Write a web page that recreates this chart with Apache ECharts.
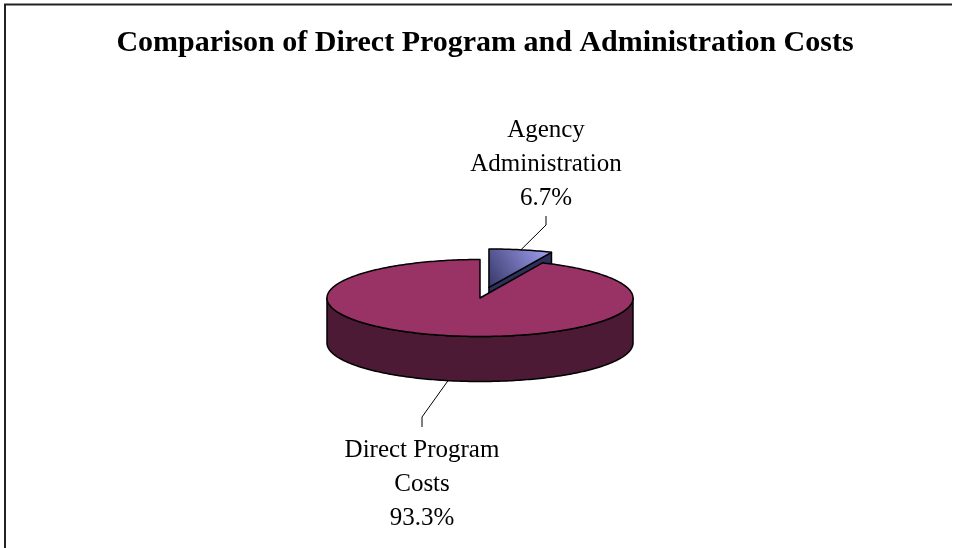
<!DOCTYPE html>
<html>
<head>
<meta charset="utf-8">
<script src="https://cdn.jsdelivr.net/npm/echarts@6/dist/echarts.min.js"></script>
<style>
  html, body { margin: 0; padding: 0; background: #fff; }
  #chart { width: 956px; height: 548px; }
</style>
</head>
<body>
<div id="chart"></div>
<script>
// ---- data ----
const chartTitle = 'Comparison of Direct Program and Administration Costs';
const categories = ['Agency\nAdministration', 'Direct Program\nCosts'];
const values = [6.7, 93.3];
const explodeRatio = [0.28, 0];

// ---- layout / style ----
const PIE = { cx: 480, cy: 298, rx: 153, ry: 38.5, depth: 45 };
const LABEL_LAYOUT = [
  { elbow: [546, 225], end: [546, 216], vAlign: 'bottom', gap: -1 },
  { elbow: [422, 417], end: [422, 427], vAlign: 'top', gap: 6 }
];
const TOP_FILLS = [
  new echarts.graphic.LinearGradient(1, 0, 0, 1, [
    { offset: 0, color: '#a5a5f7' },
    { offset: 1, color: '#363668' }
  ]),
  '#993366'
];
const SIDE_FILLS = ['#2f2f5c', '#4c1a34'];
const LABEL_FONT = '25px "Liberation Serif", "Times New Roman", serif';

const total = values.reduce((a, b) => a + b, 0);
const startFractions = values.map((v, i) => values.slice(0, i).reduce((a, b) => a + b, 0) / total);

function renderSlice(params, api) {
  const idx = params.dataIndex;
  const value = api.value(0);
  const a0 = startFractions[idx] * Math.PI * 2;
  const a1 = a0 + value / total * Math.PI * 2;
  const mid = (a0 + a1) / 2;
  const ex = explodeRatio[idx] * PIE.rx * Math.sin(mid);
  const ey = -explodeRatio[idx] * PIE.ry * Math.cos(mid);
  const cx = PIE.cx + ex, cy = PIE.cy + ey, d = PIE.depth;

  // angle measured clockwise from 12 o'clock
  const pt = (t, dz) => [cx + PIE.rx * Math.sin(t), cy - PIE.ry * Math.cos(t) + (dz || 0)];
  const arc = (s, e, dz) => {
    const n = Math.max(2, Math.ceil((e - s) / (Math.PI / 180)));
    const pts = [];
    for (let k = 0; k <= n; k++) pts.push(pt(s + (e - s) * k / n, dz));
    return pts;
  };
  const outline = { stroke: '#000', lineWidth: 1.5, lineJoin: 'round' };
  const base = Math.cos(mid) > 0 ? 0 : 10;   // back slices first
  const children = [];

  // radial cut faces that face the viewer
  if (Math.sin(a1) > 1e-6) {
    children.push({ type: 'polygon', z2: base + 1,
      shape: { points: [[cx, cy], pt(a1), pt(a1, d), [cx, cy + d]] },
      style: Object.assign({ fill: SIDE_FILLS[idx] }, outline) });
  }
  if (Math.sin(a0) < -1e-6) {
    children.push({ type: 'polygon', z2: base + 1,
      shape: { points: [[cx, cy], pt(a0), pt(a0, d), [cx, cy + d]] },
      style: Object.assign({ fill: SIDE_FILLS[idx] }, outline) });
  }
  // front part of the outer rim
  const s = Math.max(a0, Math.PI / 2), e = Math.min(a1, Math.PI * 1.5);
  if (e > s) {
    const topArc = arc(s, e, 0);
    const botArc = arc(s, e, d).reverse();
    children.push({ type: 'polygon', z2: base + 2,
      shape: { points: topArc.concat(botArc) },
      style: Object.assign({ fill: SIDE_FILLS[idx] }, outline) });
  }
  // top face
  children.push({ type: 'polygon', z2: base + 3,
    shape: { points: [[cx, cy]].concat(arc(a0, a1, 0)) },
    style: Object.assign({ fill: TOP_FILLS[idx] }, outline) });

  // leader line and label
  const front = Math.cos(mid) < 0;
  const start = pt(mid, front ? d : 0);
  const lay = LABEL_LAYOUT[idx];
  children.push({ type: 'polyline', z2: 20,
    shape: { points: [start, lay.elbow, lay.end] },
    style: { stroke: '#000', lineWidth: 1, fill: null } });
  children.push({ type: 'text', z2: 21,
    style: {
      text: categories[idx] + '\n' + value.toFixed(1) + '%',
      x: lay.end[0],
      y: lay.end[1] + lay.gap,
      align: 'center',
      verticalAlign: lay.vAlign,
      font: LABEL_FONT,
      lineHeight: 34,
      fill: '#000'
    } });

  return { type: 'group', children: children };
}

const chart = echarts.init(document.getElementById('chart'), null, { renderer: 'canvas' });
chart.setOption({
  backgroundColor: '#ffffff',
  animation: false,
  graphic: [
    { type: 'polyline', z: 1,
      shape: { points: [[5, 548], [5, 4.5], [952, 4.5]] },
      style: { stroke: '#222', lineWidth: 2, fill: null } },
    { type: 'text', z: 2, x: 485, y: 43.5,
      style: { text: chartTitle, align: 'center', verticalAlign: 'middle',
        font: 'bold 30px "Liberation Serif", "Times New Roman", serif', fill: '#000' } }
  ],
  series: [{
    type: 'custom',
    coordinateSystem: 'none',
    silent: true,
    renderItem: renderSlice,
    data: values.map((v, i) => [v, i])
  }]
});
</script>
</body>
</html>
